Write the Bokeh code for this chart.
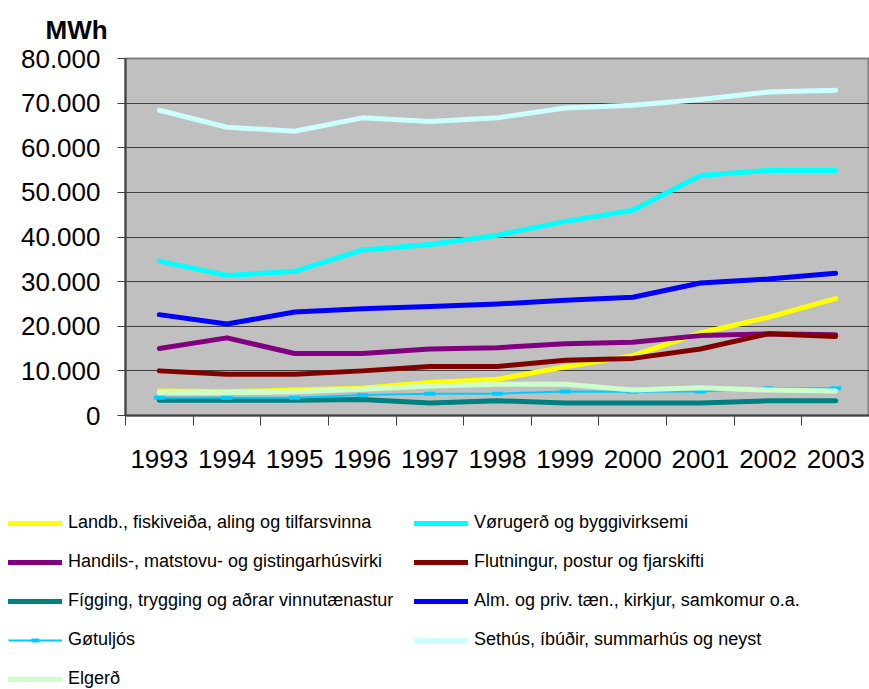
from bokeh.plotting import figure
from bokeh.models import Range1d, FixedTicker, Legend, LegendItem
from bokeh.layouts import column
from bokeh.embed import file_html
from bokeh.resources import INLINE

years = ["1993", "1994", "1995", "1996", "1997", "1998", "1999", "2000", "2001", "2002", "2003"]

landb = [5500, 5300, 5700, 6100, 7400, 8100, 10900, 13400, 18500, 22000, 26200]
vorugerd = [34600, 31400, 32300, 37100, 38300, 40400, 43500, 46000, 53800, 54900, 54900]
handils = [15000, 17400, 13900, 13900, 14900, 15200, 16100, 16400, 17900, 18300, 18100]
flutningur = [10000, 9250, 9250, 10000, 11000, 11000, 12400, 12800, 14900, 18300, 17700]
figging = [3400, 3400, 3400, 3600, 2800, 3300, 2800, 2800, 2800, 3300, 3300]
alm = [22600, 20500, 23200, 23900, 24400, 25000, 25800, 26500, 29700, 30600, 31900]
gotuljos = [4000, 4000, 4000, 4600, 4900, 4900, 5400, 5300, 5400, 6100, 6100]
sethus = [68400, 64600, 63700, 66700, 65900, 66700, 68900, 69500, 70800, 72500, 72900]
elgerd = [5100, 5100, 5300, 5900, 6600, 7000, 7000, 5700, 6200, 5700, 5500]

series_names = [
    "Landb., fiskiveiða, aling og tilfarsvinna",
    "Vørugerð og byggivirksemi",
    "Handils-, matstovu- og gistingarhúsvirki",
    "Flutningur, postur og fjarskifti",
    "Fígging, trygging og aðrar vinnutænastur",
    "Alm. og priv. tæn., kirkjur, samkomur o.a.",
    "Gøtuljós",
    "Sethús, íbúðir, summarhús og neyst",
    "Elgerð",
]
series_values = [landb, vorugerd, handils, flutningur, figging, alm, gotuljos, sethus, elgerd]
series_colors = ["#FFFF00", "#00FFFF", "#800080", "#800000", "#008080",
                 "#0000FF", "#00CCFF", "#CCFFFF", "#CCFFCC"]

y_ticks = [0, 10000, 20000, 30000, 40000, 50000, 60000, 70000, 80000]
y_labels = [f"{v:,}".replace(",", ".") for v in y_ticks]
unit_label = "MWh"

FONT = "Liberation Sans"
xs = list(range(len(years)))


def draw_series(fig):
    rs = []
    for name, vals, col in zip(series_names, series_values, series_colors):
        if name == "Gøtuljós":
            r1 = fig.line(xs, vals, line_color=col, line_width=2)
            r2 = fig.scatter(xs, vals, marker="dash", size=11, line_color=col, line_width=4)
            rs.append([r1, r2])
        else:
            r = fig.line(xs, vals, line_color=col, line_width=5,
                         line_cap="round", line_join="round")
            rs.append([r])
    return rs


# ---------- main chart ----------
p = figure(width=869, height=490, output_backend="svg", toolbar_location=None,
           x_range=Range1d(-0.5, len(years) - 0.5), y_range=Range1d(0, 80000),
           min_border_left=125, min_border_top=58, min_border_right=0,
           min_border_bottom=75,
           background_fill_color="#C0C0C0", border_fill_color="white",
           outline_line_color="#808080", outline_line_width=2)
draw_series(p)

p.title.text = unit_label
p.title.align = "left"
p.title.vertical_align = "top"
p.title.offset = -80
p.title.standoff = 24
p.title.text_font = FONT
p.title.text_font_size = "26px"
p.title.text_font_style = "bold"
p.title.text_color = "black"

p.yaxis.ticker = FixedTicker(ticks=y_ticks)
p.yaxis.major_label_overrides = {v: l for v, l in zip(y_ticks, y_labels)}
p.yaxis.major_label_text_font = FONT
p.yaxis.major_label_text_font_size = "26px"
p.yaxis.major_label_text_color = "black"
p.yaxis.major_tick_out = 8
p.yaxis.major_tick_in = 0
p.yaxis.minor_tick_line_color = None
p.yaxis.major_tick_line_color = "#404040"
p.yaxis.axis_line_color = "#404040"
p.yaxis.axis_line_width = 2
p.yaxis.major_label_standoff = 17

p.xaxis.ticker = FixedTicker(ticks=xs, minor_ticks=[i - 0.5 for i in range(len(years) + 1)])
p.xaxis.major_label_overrides = {i: y for i, y in enumerate(years)}
p.xaxis.major_label_text_font = FONT
p.xaxis.major_label_text_font_size = "26px"
p.xaxis.major_label_text_color = "black"
p.xaxis.major_tick_out = 0
p.xaxis.major_tick_in = 0
p.xaxis.minor_tick_out = 10
p.xaxis.minor_tick_in = 0
p.xaxis.minor_tick_line_color = "#404040"
p.xaxis.axis_line_color = "#404040"
p.xaxis.axis_line_width = 2
p.xaxis.major_label_standoff = 24

p.xgrid.grid_line_color = None
p.ygrid.grid_line_color = "#404040"
p.ygrid.grid_line_width = 1

# ---------- legend panel ----------
lp = figure(width=869, height=199, output_backend="svg", toolbar_location=None,
            x_range=Range1d(0, 1), y_range=Range1d(-2e6, -1e6),
            min_border_left=0, min_border_right=0, min_border_top=0, min_border_bottom=0,
            background_fill_color="white", border_fill_color="white",
            outline_line_color=None)
if "frame_align" in lp.properties():
    lp.frame_align = False
    p.frame_align = False
lp.xaxis.visible = False
lp.yaxis.visible = False
lp.grid.visible = False
leg_rs = draw_series(lp)
items = [LegendItem(label=n, renderers=r) for n, r in zip(series_names, leg_rs)]

legend = Legend(items=items, location=(8, 0), ncols=2, orientation="horizontal",
                label_text_font=FONT, label_text_font_size="18px",
                label_text_color="black", glyph_width=54, glyph_height=20,
                label_height=20, label_width=328, label_standoff=6, spacing=18,
                padding=0, margin=0, background_fill_alpha=0,
                border_line_color=None)
lp.add_layout(legend, "center")

layout = column(p, lp, spacing=0)
open("out.html", "w").write(file_html(layout, INLINE))
